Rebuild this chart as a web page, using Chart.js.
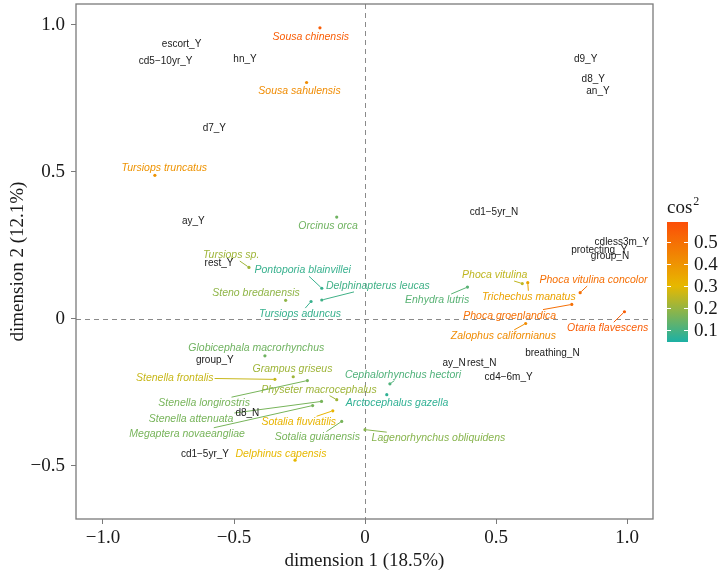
<!DOCTYPE html>
<html>
<head>
<meta charset="utf-8">
<script src="https://cdn.jsdelivr.net/npm/chart.js@4.4.1/dist/chart.umd.min.js"></script>
<style>
  html, body { margin: 0; padding: 0; background: #fff; }
</style>
</head>
<body>
<canvas id="chart" width="723" height="575"></canvas>
<script>
// species (individuals): point coords, repelled label coords, cos2
const speciesNames = [
  'Sousa chinensis', 'Sousa sahulensis', 'Tursiops truncatus', 'Orcinus orca',
  'Tursiops sp.', 'Pontoporia blainvillei', 'Delphinapterus leucas', 'Steno bredanensis',
  'Tursiops aduncus', 'Enhydra lutris', 'Phoca vitulina', 'Trichechus manatus',
  'Phoca vitulina concolor', 'Phoca groenlandica', 'Otaria flavescens', 'Zalophus californianus',
  'Cephalorhynchus hectori', 'Arctocephalus gazella', 'Lagenorhynchus obliquidens',
  'Globicephala macrorhynchus', 'Grampus griseus', 'Stenella frontalis', 'Physeter macrocephalus',
  'Stenella longirostris', 'Stenella attenuata', 'Megaptera novaeangliae', 'Sotalia fluviatilis',
  'Sotalia guianensis', 'Delphinus capensis'
];
const speciesX = [-0.172, -0.223, -0.802, -0.108, -0.443, -0.165, -0.165, -0.303, -0.206, 0.391,
  0.600, 0.621, 0.821, 0.789, 0.990, 0.613, 0.095, 0.083, 0.000, -0.382, -0.274, -0.344, -0.108,
  -0.220, -0.166, -0.200, -0.123, -0.089, -0.267];
const speciesY = [0.990, 0.804, 0.488, 0.346, 0.175, 0.104, 0.064, 0.063, 0.059, 0.108,
  0.120, 0.123, 0.089, 0.049, 0.024, -0.016, -0.221, -0.258, -0.377, -0.126, -0.197, -0.206, -0.275,
  -0.210, -0.281, -0.295, -0.313, -0.349, -0.481];
const speciesLabelX = [-0.207, -0.250, -0.766, -0.141, -0.511, -0.238, 0.049, -0.416, -0.248, 0.275,
  0.495, 0.625, 0.872, 0.552, 0.926, 0.528, 0.145, 0.122, 0.280, -0.415, -0.277, -0.726, -0.176,
  -0.614, -0.664, -0.679, -0.253, -0.182, -0.321];
const speciesLabelY = [0.960, 0.775, 0.513, 0.315, 0.217, 0.165, 0.112, 0.087, 0.016, 0.064,
  0.149, 0.075, 0.132, 0.011, -0.032, -0.058, -0.190, -0.288, -0.406, -0.101, -0.172, -0.201, -0.241,
  -0.287, -0.340, -0.391, -0.352, -0.404, -0.461];
const speciesCos2 = [0.55, 0.42, 0.40, 0.15, 0.21, 0.08, 0.09, 0.19, 0.08, 0.12,
  0.25, 0.36, 0.50, 0.50, 0.55, 0.42, 0.11, 0.07, 0.18, 0.15, 0.21, 0.26, 0.21,
  0.16, 0.16, 0.16, 0.31, 0.16, 0.30];

// variable categories (black labels)
const varNames = ['escort_Y', 'cd5\u221210yr_Y', 'hn_Y', 'd7_Y', 'd9_Y', 'd8_Y', 'an_Y', 'ay_Y',
  'rest_Y', 'cd1\u22125yr_N', 'cdless3m_Y', 'protecting_Y', 'group_N', 'group_Y', 'd8_N',
  'cd1\u22125yr_Y', 'breathing_N', 'ay_N', 'rest_N', 'cd4\u22126m_Y'];
const varX = [-0.700, -0.761, -0.458, -0.575, 0.842, 0.871, 0.889, -0.655, -0.557, 0.492,
  0.980, 0.894, 0.935, -0.573, -0.449, -0.611, 0.715, 0.340, 0.445, 0.548];
const varY = [0.933, 0.875, 0.884, 0.648, 0.884, 0.816, 0.773, 0.332, 0.188, 0.364,
  0.261, 0.234, 0.214, -0.140, -0.320, -0.461, -0.116, -0.151, -0.151, -0.199];

const xTicks = [-1, -0.5, 0, 0.5, 1];
const yTicks = [-0.5, 0, 0.5, 1];
const cosTicks = [0.1, 0.2, 0.3, 0.4, 0.5];
const cosLimits = [0.045, 0.59];
const cosMid = 0.3;

const LOW = [0, 175, 187], MID = [231, 184, 0], HIGH = [252, 78, 7];

function mix(a, b, t) {
  return a.map((v, i) => Math.round(v + (b[i] - v) * t));
}
function cosColor(c) {
  const half = Math.max(cosMid - cosLimits[0], cosLimits[1] - cosMid);
  const t = Math.max(-1, Math.min(1, (c - cosMid) / half));
  const rgb = t < 0 ? mix(MID, LOW, -t) : mix(MID, HIGH, t);
  return `rgb(${rgb[0]},${rgb[1]},${rgb[2]})`;
}
function fmt(v) {
  if (v === 0) return '0';
  return (v < 0 ? '\u2212' : '') + Math.abs(v).toFixed(1);
}

const SERIF = "'Liberation Serif', 'DejaVu Serif', serif";
const SANS = "'Liberation Sans', Arial, sans-serif";

// clip a line from label centre towards the point at the label box edge
function edgePoint(cx, cy, hw, hh, px, py) {
  const dx = px - cx, dy = py - cy;
  const tx = dx ? hw / Math.abs(dx) : Infinity;
  const ty = dy ? hh / Math.abs(dy) : Infinity;
  const t = Math.min(tx, ty, 1);
  return [cx + dx * t, cy + dy * t];
}

const overlay = {
  id: 'overlay',
  beforeDatasetsDraw(chart) {
    const { ctx, chartArea: a, scales: { x, y } } = chart;
    ctx.save();
    ctx.strokeStyle = '#8a8a8a';
    ctx.lineWidth = 1;
    ctx.setLineDash([5, 4]);
    const x0 = Math.round(x.getPixelForValue(0)) + 0.5;
    const y0 = Math.round(y.getPixelForValue(0)) + 0.5;
    ctx.beginPath();
    ctx.moveTo(x0, a.top); ctx.lineTo(x0, a.bottom);
    ctx.moveTo(a.left, y0); ctx.lineTo(a.right, y0);
    ctx.stroke();
    ctx.restore();
  },
  afterDatasetsDraw(chart) {
    const { ctx, scales: { x, y } } = chart;
    ctx.save();
    ctx.textAlign = 'center';
    ctx.textBaseline = 'middle';

    // species labels + segments
    ctx.font = 'italic 10.5px ' + SANS;
    speciesNames.forEach((name, i) => {
      const col = cosColor(speciesCos2[i]);
      const lx = x.getPixelForValue(speciesLabelX[i]);
      const ly = y.getPixelForValue(speciesLabelY[i]);
      const px = x.getPixelForValue(speciesX[i]);
      const py = y.getPixelForValue(speciesY[i]);
      const hw = ctx.measureText(name).width / 2 + 1;
      const hh = 6;
      const [ex, ey] = edgePoint(lx, ly, hw, hh, px, py);
      const d = Math.hypot(px - ex, py - ey);
      if (d > 5) {
        ctx.strokeStyle = col;
        ctx.lineWidth = 1;
        ctx.beginPath();
        ctx.moveTo(ex, ey);
        ctx.lineTo(px - (px - ex) / d * 1.5, py - (py - ey) / d * 1.5);
        ctx.stroke();
      }
      ctx.fillStyle = col;
      ctx.fillText(name, lx, ly);
    });

    // variable category labels
    ctx.font = '10px ' + SANS;
    ctx.fillStyle = '#1a1a1a';
    varNames.forEach((name, i) => {
      ctx.fillText(name, x.getPixelForValue(varX[i]), y.getPixelForValue(varY[i]));
    });
    ctx.restore();
  },
  afterDraw(chart) {
    const { ctx, chartArea: a } = chart;
    ctx.save();
    // panel frame
    ctx.strokeStyle = '#7a7a7a';
    ctx.lineWidth = 1.3;
    ctx.strokeRect(a.left, a.top, a.right - a.left, a.bottom - a.top);

    // cos2 colour bar legend
    const bx = 667, bw = 21, bTop = 222, bBot = 342;
    const toY = v => bBot - (v - cosLimits[0]) / (cosLimits[1] - cosLimits[0]) * (bBot - bTop);
    const grad = ctx.createLinearGradient(0, bBot, 0, bTop);
    for (let k = 0; k <= 30; k++) {
      const v = cosLimits[0] + (cosLimits[1] - cosLimits[0]) * k / 30;
      grad.addColorStop(k / 30, cosColor(v));
    }
    ctx.fillStyle = grad;
    ctx.fillRect(bx, bTop, bw, bBot - bTop);
    ctx.strokeStyle = '#ffffff';
    ctx.lineWidth = 1;
    ctx.fillStyle = '#1a1a1a';
    ctx.font = '19px ' + SERIF;
    ctx.textAlign = 'left';
    ctx.textBaseline = 'middle';
    cosTicks.forEach(v => {
      const ty = Math.round(toY(v)) + 0.5;
      ctx.beginPath();
      ctx.moveTo(bx, ty); ctx.lineTo(bx + 4, ty);
      ctx.moveTo(bx + bw - 4, ty); ctx.lineTo(bx + bw, ty);
      ctx.stroke();
      ctx.fillText(v.toFixed(1), bx + bw + 6, toY(v) + 1);
    });
    ctx.textBaseline = 'alphabetic';
    ctx.font = '19px ' + SERIF;
    ctx.fillText('cos', bx, 213);
    const w = ctx.measureText('cos').width;
    ctx.font = '12px ' + SERIF;
    ctx.fillText('2', bx + w + 1, 205);
    ctx.restore();
  }
};

const axisColor = '#7a7a7a';

new Chart(document.getElementById('chart'), {
  type: 'scatter',
  data: {
    datasets: [{
      data: speciesX.map((v, i) => ({ x: v, y: speciesY[i] })),
      pointBackgroundColor: speciesCos2.map(cosColor),
      pointBorderWidth: 0,
      pointRadius: 1.6
    }]
  },
  options: {
    responsive: false,
    animation: false,
    devicePixelRatio: 1,
    layout: { padding: { left: 0, right: 70, top: 0, bottom: 0 } },
    plugins: { legend: { display: false }, tooltip: { enabled: false } },
    scales: {
      x: {
        type: 'linear',
        min: -1.103,
        max: 1.099,
        afterBuildTicks: s => { s.ticks = xTicks.map(v => ({ value: v })); },
        afterFit: s => { s.height = 56; s.paddingLeft = 0; s.paddingRight = 0; },
        grid: { drawOnChartArea: false, drawTicks: true, tickLength: 5, color: axisColor, lineWidth: 1 },
        border: { display: false },
        ticks: {
          font: { family: SERIF, size: 19 },
          color: '#1a1a1a',
          padding: 3,
          maxRotation: 0,
          autoSkip: false,
          callback: v => fmt(v)
        },
        title: {
          display: true,
          text: 'dimension 1 (18.5%)',
          font: { family: SERIF, size: 19 },
          color: '#1a1a1a',
          padding: { top: 0, bottom: 3 }
        }
      },
      y: {
        type: 'linear',
        min: -0.681,
        max: 1.071,
        afterBuildTicks: s => { s.ticks = yTicks.map(v => ({ value: v })); },
        afterFit: s => { s.width = 76; s.paddingTop = 0; s.paddingBottom = 0; },
        grid: { drawOnChartArea: false, drawTicks: true, tickLength: 5, color: axisColor, lineWidth: 1 },
        border: { display: false },
        ticks: {
          font: { family: SERIF, size: 19 },
          color: '#1a1a1a',
          padding: 6,
          autoSkip: false,
          callback: v => fmt(v)
        },
        title: {
          display: true,
          text: 'dimension 2 (12.1%)',
          font: { family: SERIF, size: 19 },
          color: '#1a1a1a',
          padding: { top: 7, bottom: 0 }
        }
      }
    }
  },
  plugins: [overlay]
});
</script>
</body>
</html>
